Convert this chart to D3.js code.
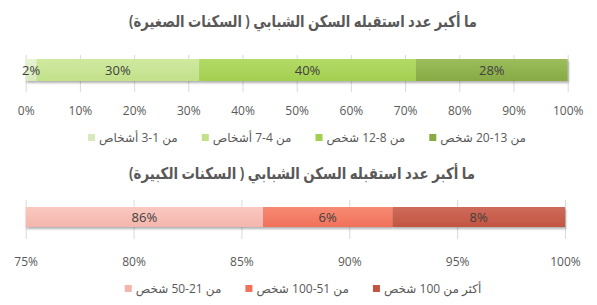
<!DOCTYPE html>
<html>
<head>
<meta charset="utf-8">
<script src="https://cdn.jsdelivr.net/npm/d3@7"></script>
<style>
  body { margin: 0; background: #fff; }
  svg { display: block; font-family: "Open Sans", "DejaVu Sans", sans-serif; }
</style>
</head>
<body>
<svg id="chart" width="597" height="305"></svg>
<script>
// top chart: small housing
const smallTitle = 'ما أكبر عدد استقبله السكن الشبابي ( السكنات الصغيرة)';
const smallCats = ['من 1-3 أشخاص', 'من 4-7 أشخاص', 'من 8-12 شخص', 'من 13-20 شخص'];
const smallValues = [2, 30, 40, 28];
const smallTicks = [0, 10, 20, 30, 40, 50, 60, 70, 80, 90, 100];
const smallColors = [['#e6f3d2', '#d8eabd'], ['#cfe9a0', '#c2e18a'], ['#b2da67', '#a3cf4f'], ['#9bbd5c', '#88aa45']];

// bottom chart: large housing
const largeTitle = 'ما أكبر عدد استقبله السكن الشبابي ( السكنات الكبيرة)';
const largeCats = ['من 21-50 شخص', 'من 51-100 شخص', 'أكثر من 100 شخص'];
const largeValues = [86, 6, 8];
const largeTicks = [75, 80, 85, 90, 95, 100];
const largeColors = [['#f9c8c0', '#f4b6ac'], ['#f78a74', '#f1715b'], ['#cf6b59', '#c25542']];

const svg = d3.select('#chart');
const defs = svg.append('defs');

const shadow = defs.append('filter').attr('id', 'shadow')
    .attr('x', '-5%').attr('y', '-30%').attr('width', '110%').attr('height', '180%');
shadow.append('feDropShadow')
    .attr('dx', 1).attr('dy', 2).attr('stdDeviation', 1.2)
    .attr('flood-color', '#000').attr('flood-opacity', 0.3);

function gradient(id, c) {
    let g = defs.append('linearGradient').attr('id', id)
        .attr('x1', 0).attr('y1', 0).attr('x2', 0).attr('y2', 1);
    g.append('stop').attr('offset', '0%').attr('stop-color', c[0]);
    g.append('stop').attr('offset', '100%').attr('stop-color', c[1]);
}

function drawChart(opts) {
    let g = svg.append('g');
    let x = d3.scaleLinear().domain(opts.domain).range([25.7, opts.right]).clamp(true);

    g.append('text')
        .attr('x', opts.titleX).attr('y', opts.titleY)
        .attr('text-anchor', 'middle')
        .attr('direction', 'rtl')
        .attr('font-size', 16).attr('font-weight', 'bold')
        .attr('textLength', opts.titleW).attr('lengthAdjust', 'spacingAndGlyphs')
        .attr('fill', '#595959')
        .text(opts.title);

    // gridlines
    g.append('g')
        .attr('transform', 'translate(0,' + opts.gridTop + ')')
        .call(d3.axisBottom(x).tickValues(opts.ticks).tickSize(opts.gridBottom - opts.gridTop).tickFormat(''))
        .call(a => a.select('.domain').remove())
        .call(a => a.selectAll('line').attr('stroke', '#d9d9d9'));

    // tick labels
    g.append('g')
        .attr('transform', 'translate(0,' + opts.labelY + ')')
        .call(d3.axisBottom(x).tickValues(opts.ticks).tickSize(0).tickPadding(0).tickFormat(d => d + '%'))
        .call(a => a.select('.domain').remove())
        .call(a => a.selectAll('text').attr('font-size', 12).attr('fill', '#595959')
            .attr('font-family', '"Open Sans", sans-serif'));

    // stacked segments
    let start = 0;
    let segs = opts.values.map((v, i) => {
        let s = {i: i, v: v, x0: start, x1: start + v};
        start += v;
        return s;
    });
    opts.colors.forEach((c, i) => gradient(opts.id + i, c));

    let bar = g.append('g').attr('filter', 'url(#shadow)');
    bar.selectAll('rect').data(segs).enter().append('rect')
        .attr('x', d => x(d.x0))
        .attr('width', d => x(d.x1) - x(d.x0))
        .attr('y', opts.barY).attr('height', opts.barH)
        .attr('fill', d => 'url(#' + opts.id + d.i + ')');

    g.selectAll('.val').data(segs).enter().append('text')
        .attr('class', 'val')
        .attr('x', d => (x(d.x0) + x(d.x1)) / 2)
        .attr('y', opts.barY + opts.barH / 2)
        .attr('dy', '0.35em')
        .attr('text-anchor', 'middle')
        .attr('font-size', 13).attr('fill', '#404040')
        .text(d => d.v + '%');

    // legend
    let leg = g.append('g');
    let items = leg.selectAll('g').data(opts.cats).enter().append('g');
    items.append('rect')
        .attr('width', 7).attr('height', 7)
        .attr('y', opts.legendY - 4)
        .attr('fill', (d, i) => opts.colors[i][1]);
    let texts = items.append('text')
        .attr('y', opts.legendY)
        .attr('dy', '0.35em')
        .attr('text-anchor', 'middle')
        .attr('direction', 'rtl')
        .attr('font-size', 12).attr('fill', '#595959')
        .text(d => d);
    let widths = [];
    texts.each(function () { widths.push(this.getComputedTextLength()); });
    let gap = 24, sw = 7, pad = 4;
    let total = d3.sum(widths) + opts.cats.length * (sw + pad) + gap * (opts.cats.length - 1);
    let cx = opts.legendCenter - total / 2;
    items.each(function (d, i) {
        let it = d3.select(this);
        it.select('rect').attr('x', cx);
        it.select('text').attr('x', cx + sw + pad + widths[i] / 2);
        cx += sw + pad + widths[i] + gap;
    });
}

drawChart({
    id: 'gs', title: smallTitle, cats: smallCats, values: smallValues, ticks: smallTicks,
    colors: smallColors, domain: [0, 100], right: 567.7,
    titleX: 303, titleW: 348, titleY: 27, gridTop: 55, gridBottom: 92, barY: 59, barH: 22,
    labelY: 106, legendY: 138, legendCenter: 307
});

drawChart({
    id: 'gl', title: largeTitle, cats: largeCats, values: largeValues, ticks: largeTicks,
    colors: largeColors, domain: [75, 100], right: 565,
    titleX: 302, titleW: 346, titleY: 179, gridTop: 200, gridBottom: 239, barY: 207, barH: 20,
    labelY: 257, legendY: 289, legendCenter: 303
});
</script>
</body>
</html>
